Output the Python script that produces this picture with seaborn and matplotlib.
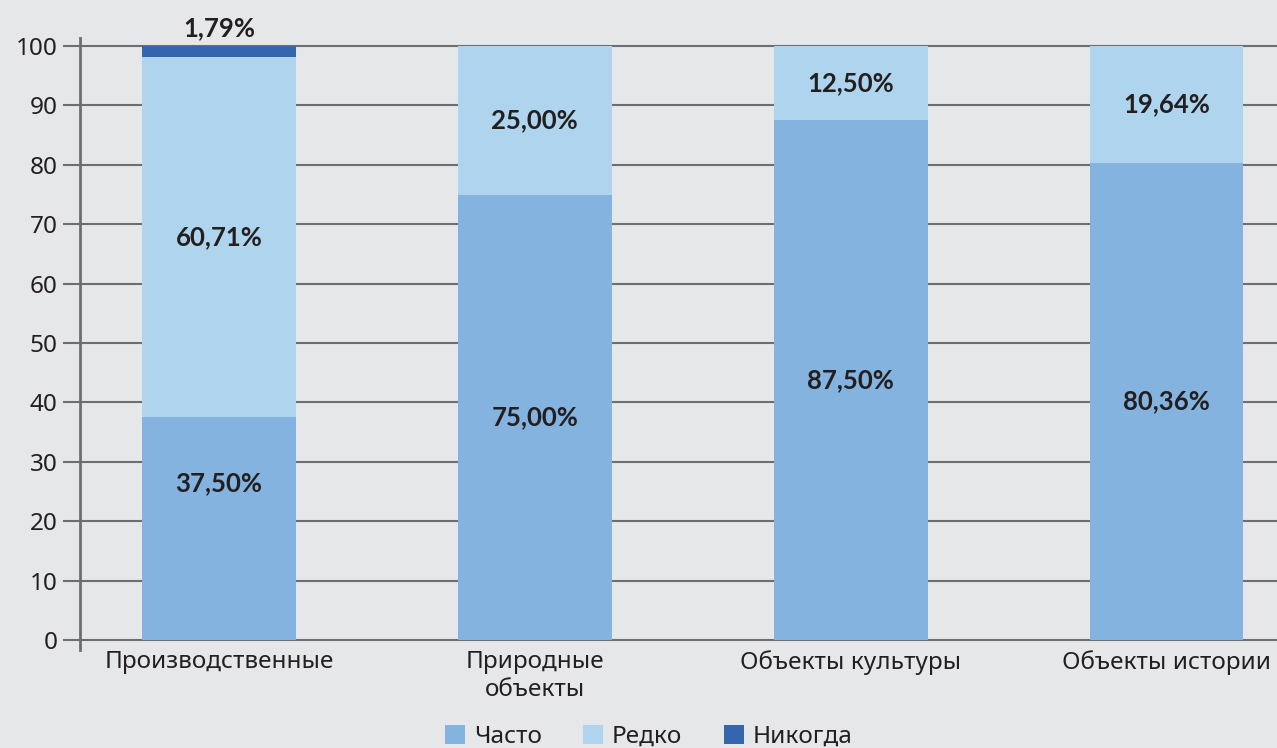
import matplotlib
matplotlib.use("Agg")
import matplotlib.pyplot as plt
import numpy as np
import pandas as pd
import seaborn as sns
from matplotlib.patches import Patch

# Data
categories = ["Производственные", "Природные\nобъекты", "Объекты культуры", "Объекты истории"]
often = [37.50, 75.00, 87.50, 80.36]
rarely = [60.71, 25.00, 12.50, 19.64]
never = [1.79, 0.0, 0.0, 0.0]
series_names = ["Часто", "Редко", "Никогда"]
colors = ["#84b3df", "#aed4ee", "#3565ad"]

BG = "#e6e7e9"
GRID = "#6d6e71"
TEXT = "#231f20"

sns.set_theme(style="white")
plt.rcParams["font.family"] = ["Noto Sans", "DejaVu Sans"]


def fmt(v):
    return f"{v:.2f}%".replace(".", ",")


def create_chart():
    series = [often, rarely, never]
    cum = np.cumsum(np.array(series), axis=0)

    fig = plt.figure(figsize=(12.77, 7.48), dpi=100)
    fig.patch.set_facecolor(BG)
    ax = fig.add_axes([80 / 1277, (748 - 650) / 748, 1 - 80 / 1277, 612 / 748])
    ax.set_facecolor(BG)

    # draw stacks from the top down so the lower segments cover the upper ones
    for i in reversed(range(len(series))):
        df = pd.DataFrame({"cat": categories, "val": cum[i]})
        sns.barplot(data=df, x="cat", y="val", color=colors[i], width=0.487,
                    saturation=1, ax=ax, zorder=3, linewidth=0)

    # segment labels (the first bar's lower label sits a bit above centre in the original)
    for j in range(len(categories)):
        base = 0
        for i, vals in enumerate(series):
            v = vals[j]
            if v <= 0:
                continue
            if v < 5:
                y = 103
            elif i == 0 and j == 0:
                y = 26.4
            else:
                y = base + v / 2
            ax.text(j, y, fmt(v), ha="center", va="center", fontsize=18.5,
                    fontweight="bold", family=["Lato", "DejaVu Sans"],
                    color=TEXT, zorder=5, clip_on=False)
            base += v

    ax.set_xlim(-0.44, 3.35)
    ax.set_ylim(-1.68, 101.35)
    ax.set_yticks(range(0, 101, 10))
    ax.yaxis.grid(True, color=GRID, linewidth=1.5, zorder=0)
    ax.set_axisbelow(True)

    for s in ["top", "right", "bottom"]:
        ax.spines[s].set_visible(False)
    ax.spines["left"].set_color(GRID)
    ax.spines["left"].set_linewidth(2)

    ax.tick_params(axis="y", length=12, width=1.5, color=GRID, labelsize=17.5,
                   labelcolor=TEXT, pad=4, left=True)
    ax.tick_params(axis="x", length=0, labelsize=17.5, labelcolor=TEXT, pad=0)
    ax.set_xlabel("")
    ax.set_ylabel("")

    handles = [Patch(facecolor=c, edgecolor="none") for c in colors]
    leg = fig.legend(handles, series_names, loc="lower center", ncol=3,
                     bbox_to_anchor=(0.508, -0.03), frameon=False, fontsize=17.5,
                     handlelength=0.82, handleheight=0.82, handletextpad=0.37,
                     columnspacing=1.7)
    for t in leg.get_texts():
        t.set_color(TEXT)

    fig.savefig("out.png", dpi=100, facecolor=BG)
    plt.close(fig)


if __name__ == "__main__":
    create_chart()
